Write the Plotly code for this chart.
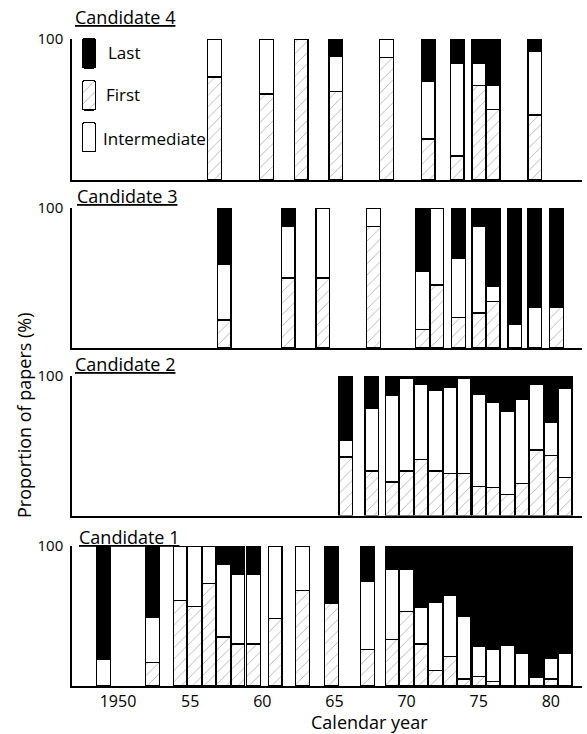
import plotly.graph_objects as go

# ---------------- data ----------------
# Candidate 1
years_c1 = [1949, 1952.4, 1954.3, 1955.3, 1956.3, 1957.3, 1958.3, 1959.4, 1960.9, 1962.8,
            1964.8, 1967.3, 1969, 1970, 1971, 1972, 1973, 1974, 1975, 1976, 1977, 1978,
            1979, 1980, 1981]
first_c1 = [0, 17, 61, 57, 73, 35, 30, 30, 48, 68, 59, 26, 33, 53, 30, 11, 21, 5, 7, 3, 0, 0, 0, 5, 0]
inter_c1 = [19, 32, 39, 43, 27, 52, 50, 50, 52, 32, 0, 49, 50, 30, 26, 49, 44, 45, 21, 23, 29, 23, 6, 15, 23]
last_c1 = [81, 51, 0, 0, 0, 13, 20, 20, 0, 0, 41, 25, 17, 17, 44, 40, 35, 50, 72, 74, 71, 77, 94, 80, 77]

# Candidate 2
years_c2 = [1965.8, 1967.6, 1969, 1970, 1971, 1972, 1973, 1974, 1975, 1976, 1977, 1978, 1979, 1980, 1981]
first_c2 = [42, 32, 24, 32, 40, 32, 30, 30, 21, 20, 15, 23, 47, 43, 27]
inter_c2 = [12, 45, 62, 66, 54, 58, 62, 68, 66, 61, 60, 60, 47, 24, 64]
last_c2 = [46, 23, 14, 2, 6, 10, 8, 2, 13, 19, 25, 17, 6, 33, 9]

# Candidate 3
years_c3 = [1957.35, 1961.8, 1964.2, 1967.7, 1971.1, 1972.1, 1973.6, 1975.0, 1976.0, 1977.5, 1978.9, 1980.4]
first_c3 = [20, 50, 50, 87, 13, 45, 22, 25, 33, 0, 0, 29]
inter_c3 = [40, 37, 50, 13, 42, 55, 42, 62, 11, 17, 29, 0]
last_c3 = [40, 13, 0, 0, 45, 0, 36, 13, 56, 83, 71, 71]

# Candidate 4
years_c4 = [1956.7, 1960.3, 1962.7, 1965.1, 1968.6, 1971.5, 1973.5, 1975.0, 1976.0, 1978.9]
first_c4 = [73, 61, 100, 63, 87, 29, 17, 67, 50, 46]
inter_c4 = [27, 39, 0, 25, 13, 41, 66, 16, 17, 45]
last_c4 = [0, 0, 0, 12, 0, 30, 17, 17, 33, 9]

panel_titles = ["Candidate 4", "Candidate 3", "Candidate 2", "Candidate 1"]
tick_years = [1950, 1955, 1960, 1965, 1970, 1975, 1980]
tick_text = ["1950", "55", "60", "65", "70", "75", "80"]
legend_names = ["Last", "First", "Intermediate"]

# ---------------- styles / layout ----------------
W, H = 587, 734
FONT = "Open Sans"
X_RANGE = [1946.81, 1982.16]
BAR_W = 0.95
OUTLINE = dict(color="black", width=1.3)

style_first = dict(color="white", line=OUTLINE,
                   pattern=dict(shape="/", size=8, solidity=0.1, fgcolor="#555", bgcolor="white"))
style_inter = dict(color="white", line=OUTLINE)
style_last = dict(color="black", line=OUTLINE)

# pixel extents (top, bottom) of each panel, top to bottom
panel_px = [(39, 180), (208, 348), (376, 515.5), (546, 686)]
title_px = [(73, 17), (75, 196), (73, 364), (77, 537)]

data = [
    (years_c4, first_c4, inter_c4, last_c4),
    (years_c3, first_c3, inter_c3, last_c3),
    (years_c2, first_c2, inter_c2, last_c2),
    (years_c1, first_c1, inter_c1, last_c1),
]

fig = go.Figure()

def py(p):
    return 1 - p / H

def px(p):
    return (p - 72) / (W - 77)

for k, (yrs, fst, itm, lst) in enumerate(data):
    n = k + 1
    xa = "x" if n == 1 else f"x{n}"
    ya = "y" if n == 1 else f"y{n}"
    for vals, st, nm in ((fst, style_first, "First"), (itm, style_inter, "Intermediate"), (lst, style_last, "Last")):
        fig.add_trace(go.Bar(x=yrs, y=vals, width=BAR_W, marker=st, name=nm,
                             xaxis=xa, yaxis=ya, showlegend=False, hoverinfo="skip"))
    top, bot = panel_px[k]
    last_panel = (k == len(data) - 1)
    xkey = "xaxis" if n == 1 else f"xaxis{n}"
    ykey = "yaxis" if n == 1 else f"yaxis{n}"
    fig.layout[xkey] = dict(domain=[0, 1], range=X_RANGE, anchor=ya, showgrid=False, zeroline=False,
                            showline=True, linecolor="black", linewidth=1.5, ticks="",
                            tickvals=tick_years, ticktext=tick_text, showticklabels=last_panel,
                            tickfont=dict(family=FONT, size=16, color="black"), automargin=False)
    fig.layout[ykey] = dict(domain=[py(bot), py(top)], range=[0, 100], anchor=xa, showgrid=False,
                            zeroline=False, showline=True, linecolor="black", linewidth=1.5,
                            tickvals=[100], ticktext=["100"], ticks="", ticklabelstandoff=4,
                            tickfont=dict(family=FONT, size=15, color="black"), automargin=False)
    tx, ty = title_px[k]
    fig.add_annotation(text=f"<u>{panel_titles[k]}</u>", xref="paper", yref="paper",
                       x=px(tx), y=py(ty), xanchor="left", yanchor="middle",
                       showarrow=False, font=dict(family=FONT, size=18, color="black"))

# custom legend (tall swatches) on its own hidden axes
legend_styles = [style_last, style_first, style_inter]
for i, (nm, st) in enumerate(zip(legend_names, legend_styles)):
    base = len(legend_names) - 1 - i
    fig.add_trace(go.Bar(x=[0], y=[0.7], base=[base], width=1, marker=dict(st, cornerradius=3),
                         xaxis="x5", yaxis="y5", showlegend=False, hoverinfo="skip"))
fig.layout["xaxis5"] = dict(domain=[px(82), px(96)], range=[-0.5, 0.5], visible=False, anchor="y5")
fig.layout["yaxis5"] = dict(domain=[py(152), py(37)], range=[0, 2.74], visible=False, anchor="x5")
legend_text_px = [(106, 52), (104, 95), (101, 138)]
for nm, (lx, ly) in zip(legend_names, legend_text_px):
    fig.add_annotation(text=nm, xref="paper", yref="paper", x=px(lx), y=py(ly),
                       xanchor="left", yanchor="middle", showarrow=False,
                       font=dict(family=FONT, size=17, color="black"))

# axis titles
fig.add_annotation(text="Calendar year", xref="paper", yref="paper", x=px(369),
                   y=py(722), xanchor="center", yanchor="middle", showarrow=False,
                   font=dict(family=FONT, size=18, color="black"))
fig.add_annotation(text="Proportion of papers (%)", xref="paper", yref="paper",
                   x=px(24), y=py(415), xanchor="center", yanchor="middle",
                   textangle=-90, showarrow=False, font=dict(family=FONT, size=18, color="black"))

fig.update_layout(width=W, height=H, barmode="stack", plot_bgcolor="white", paper_bgcolor="white",
                  margin=dict(l=72, r=5, t=0, b=0), showlegend=False,
                  font=dict(family=FONT, color="black"))

fig.write_html("out.html", config={"displayModeBar": False},
               post_script="document.body.style.margin='0';document.body.style.overflow='hidden';")
